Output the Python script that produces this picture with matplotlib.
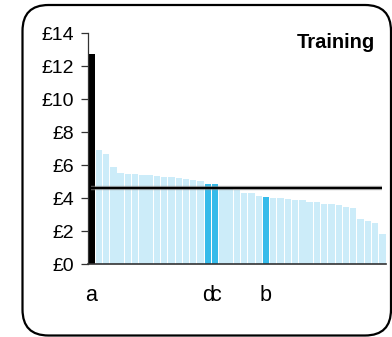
import matplotlib
matplotlib.use("Agg")
import matplotlib.pyplot as plt
import matplotlib.patches as mpatches
from matplotlib.transforms import IdentityTransform, blended_transform_factory

plt.rcParams['font.family'] = ['Liberation Sans', 'DejaVu Sans']

# ---- data ----
values = [12.75, 6.93, 6.68, 5.90, 5.53, 5.47, 5.47, 5.41, 5.41, 5.35,
          5.29, 5.29, 5.23, 5.17, 5.11, 5.05, 4.87, 4.87, 4.70, 4.62,
          4.52, 4.32, 4.32, 4.14, 4.08, 4.02, 4.02, 3.96, 3.90, 3.90,
          3.78, 3.78, 3.66, 3.66, 3.59, 3.47, 3.41, 2.74, 2.62, 2.50, 1.84]
highlight_black = [0]
highlight_blue = [16, 17, 24]
label_positions = [0, 16, 17, 24]
label_texts = ['a', 'd', 'c', 'b']
average_value = 4.62
yticks = [0, 2, 4, 6, 8, 10, 12, 14]
ytick_labels = ['£0', '£2', '£4', '£6', '£8', '£10', '£12', '£14']
title = 'Training'

LIGHT = '#CCECF9'
BLUE = '#35BBEA'
BLACK = '#000000'

W, H = 392, 337
fig = plt.figure(figsize=(W / 100, H / 100), dpi=100)
ax = fig.add_axes([88.3 / W, 1 - 264.3 / H, (386.4 - 88.3) / W, (264.3 - 33.4) / H])

n = len(values)
bw = 0.88
colors = []
for i in range(n):
    if i in highlight_black:
        colors.append(BLACK)
    elif i in highlight_blue:
        colors.append(BLUE)
    else:
        colors.append(LIGHT)
xs = list(range(n))
ax.bar(xs, values, width=bw, align='edge', color=colors, linewidth=0, zorder=2)

centers = [x + bw / 2 for x in xs]
ax.plot([centers[0], centers[-1]], [average_value, average_value],
        color='#9a9a9a', lw=3.2, zorder=3, solid_capstyle='butt', alpha=0.6)
ax.plot([centers[0], centers[-1]], [average_value, average_value],
        color=BLACK, lw=1.7, zorder=4, solid_capstyle='butt')

ax.set_xlim(0, n)
ax.set_ylim(0, 14)
ax.set_yticks(yticks)
ax.set_yticklabels(ytick_labels, fontsize=14)
ax.tick_params(axis='y', direction='out', length=5, width=0.9, color='#333333', pad=5)
ax.set_xticks([])

for s in ['top', 'right']:
    ax.spines[s].set_visible(False)
ax.spines['left'].set_color('#333333')
ax.spines['left'].set_linewidth(0.9)
ax.spines['bottom'].set_color('#333333')
ax.spines['bottom'].set_linewidth(1.2)

trans = blended_transform_factory(ax.transData, ax.transAxes)
for p, t in zip(label_positions, label_texts):
    ax.text(p + bw / 2, -31 / (264.3 - 33.4), t, transform=trans,
            ha='center', va='center', fontsize=15.5)

fig.text(375 / W, 1 - 42.5 / H, title, ha='right', va='center',
         fontsize=14.5, fontweight='bold')

border = mpatches.FancyBboxPatch((22.5, 1.5), 368.5, 330.5,
                                 boxstyle=mpatches.BoxStyle.Round(pad=0, rounding_size=26),
                                 transform=IdentityTransform(), fill=False,
                                 edgecolor='black', linewidth=1.6)
fig.add_artist(border)

fig.savefig('out.png', dpi=100)
